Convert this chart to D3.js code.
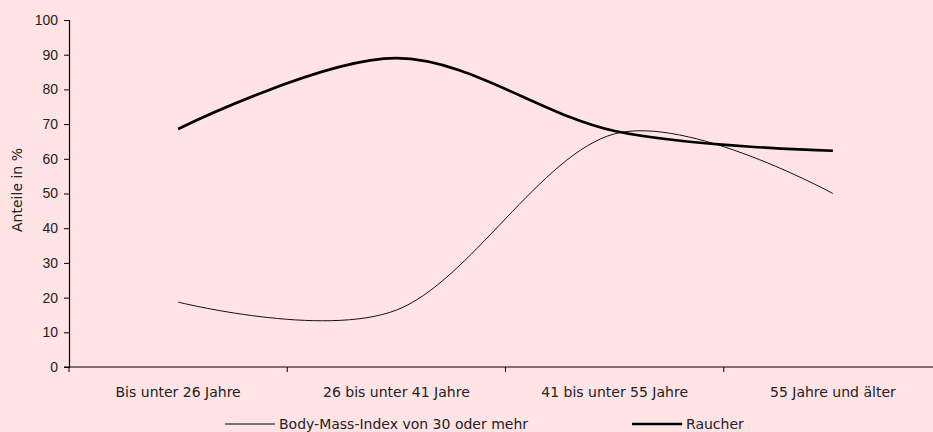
<!DOCTYPE html>
<html>
<head>
<meta charset="utf-8">
<script src="https://cdn.jsdelivr.net/npm/d3@7"></script>
<style>
  body { margin: 0; background: #ffe3e5; }
  svg { display: block; font-family: "DejaVu Sans", sans-serif; }
</style>
</head>
<body>
<div id="chart"></div>
<script>
var categories = ["Bis unter 26 Jahre", "26 bis unter 41 Jahre", "41 bis unter 55 Jahre", "55 Jahre und älter"];
var bmiValues = [18.7, 16.4, 67.2, 50.0];
var raucherValues = [68.6, 89.0, 68.0, 62.3];
var yTicks = [0, 10, 20, 30, 40, 50, 60, 70, 80, 90, 100];
var seriesNames = ["Body-Mass-Index von 30 oder mehr", "Raucher"];

var margin = { top: 20, right: -9, bottom: 65, left: 69 },
    totalW = 933, totalH = 432,
    width = totalW - margin.left - margin.right,
    height = totalH - margin.top - margin.bottom;

var svg = d3.select('#chart').append('svg')
  .attr('width', totalW)
  .attr('height', totalH);

svg.append('rect')
  .attr('width', totalW).attr('height', totalH)
  .attr('fill', '#ffe3e5');

var g = svg.append('g')
  .attr('transform', 'translate(' + margin.left + ',' + margin.top + ')');

var xScale = d3.scaleBand()
  .domain(categories)
  .range([0, width]);

var yScale = d3.scaleLinear()
  .domain([0, 100])
  .range([height, 0]);

// y axis
var yAxis = d3.axisLeft(yScale).tickValues(yTicks).tickSize(5).tickPadding(6);
var yGuide = g.append('g').call(yAxis);
yGuide.select('.domain').attr('stroke', '#000').attr('stroke-width', 1.2);
yGuide.selectAll('line').attr('stroke', '#000');
yGuide.selectAll('text').style('font-size', '14px').attr('fill', '#222');

// x axis with ticks between categories
var xAxisG = g.append('g').attr('transform', 'translate(0,' + height + ')');
xAxisG.append('line')
  .attr('x1', -5).attr('x2', width)
  .attr('stroke', '#000').attr('stroke-width', 1.2);
var bounds = categories.map(function(d) { return xScale(d); });
xAxisG.selectAll('.sep').data(bounds)
  .enter().append('line')
  .attr('class', 'sep')
  .attr('x1', function(d) { return d; })
  .attr('x2', function(d) { return d; })
  .attr('y1', 0).attr('y2', 5)
  .attr('stroke', '#000');
xAxisG.selectAll('.lbl').data(categories)
  .enter().append('text')
  .attr('class', 'lbl')
  .attr('x', function(d) { return xScale(d) + xScale.bandwidth() / 2; })
  .attr('y', 30)
  .attr('text-anchor', 'middle')
  .style('font-size', '14px')
  .attr('fill', '#222')
  .text(function(d) { return d; });

// y title
svg.append('text')
  .attr('transform', 'translate(22,' + 190 + ') rotate(-90)')
  .attr('text-anchor', 'middle')
  .style('font-size', '14px')
  .attr('fill', '#222')
  .text('Anteile in %');

var line = d3.line()
  .x(function(d, i) { return xScale(categories[i]) + xScale.bandwidth() / 2; })
  .y(function(d) { return yScale(d); })
  .curve(d3.curveCatmullRom.alpha(0));

g.append('path')
  .datum(bmiValues)
  .attr('d', line)
  .attr('fill', 'none')
  .attr('stroke', '#111')
  .attr('stroke-width', 1);

g.append('path')
  .datum(raucherValues)
  .attr('d', line)
  .attr('fill', 'none')
  .attr('stroke', '#000')
  .attr('stroke-width', 2.6);

// legend
var legendItems = [
  { name: seriesNames[0], x: 225, w: 1 },
  { name: seriesNames[1], x: 632, w: 2.6 }
];
var legend = svg.selectAll('.legend').data(legendItems)
  .enter().append('g')
  .attr('class', 'legend')
  .attr('transform', function(d) { return 'translate(' + d.x + ',424)'; });
legend.append('line')
  .attr('x1', 0).attr('x2', 50)
  .attr('stroke', '#000')
  .attr('stroke-width', function(d) { return d.w; });
legend.append('text')
  .attr('x', 54)
  .attr('y', 5)
  .style('font-size', '14px')
  .attr('fill', '#222')
  .text(function(d) { return d.name; });
</script>
</body>
</html>
